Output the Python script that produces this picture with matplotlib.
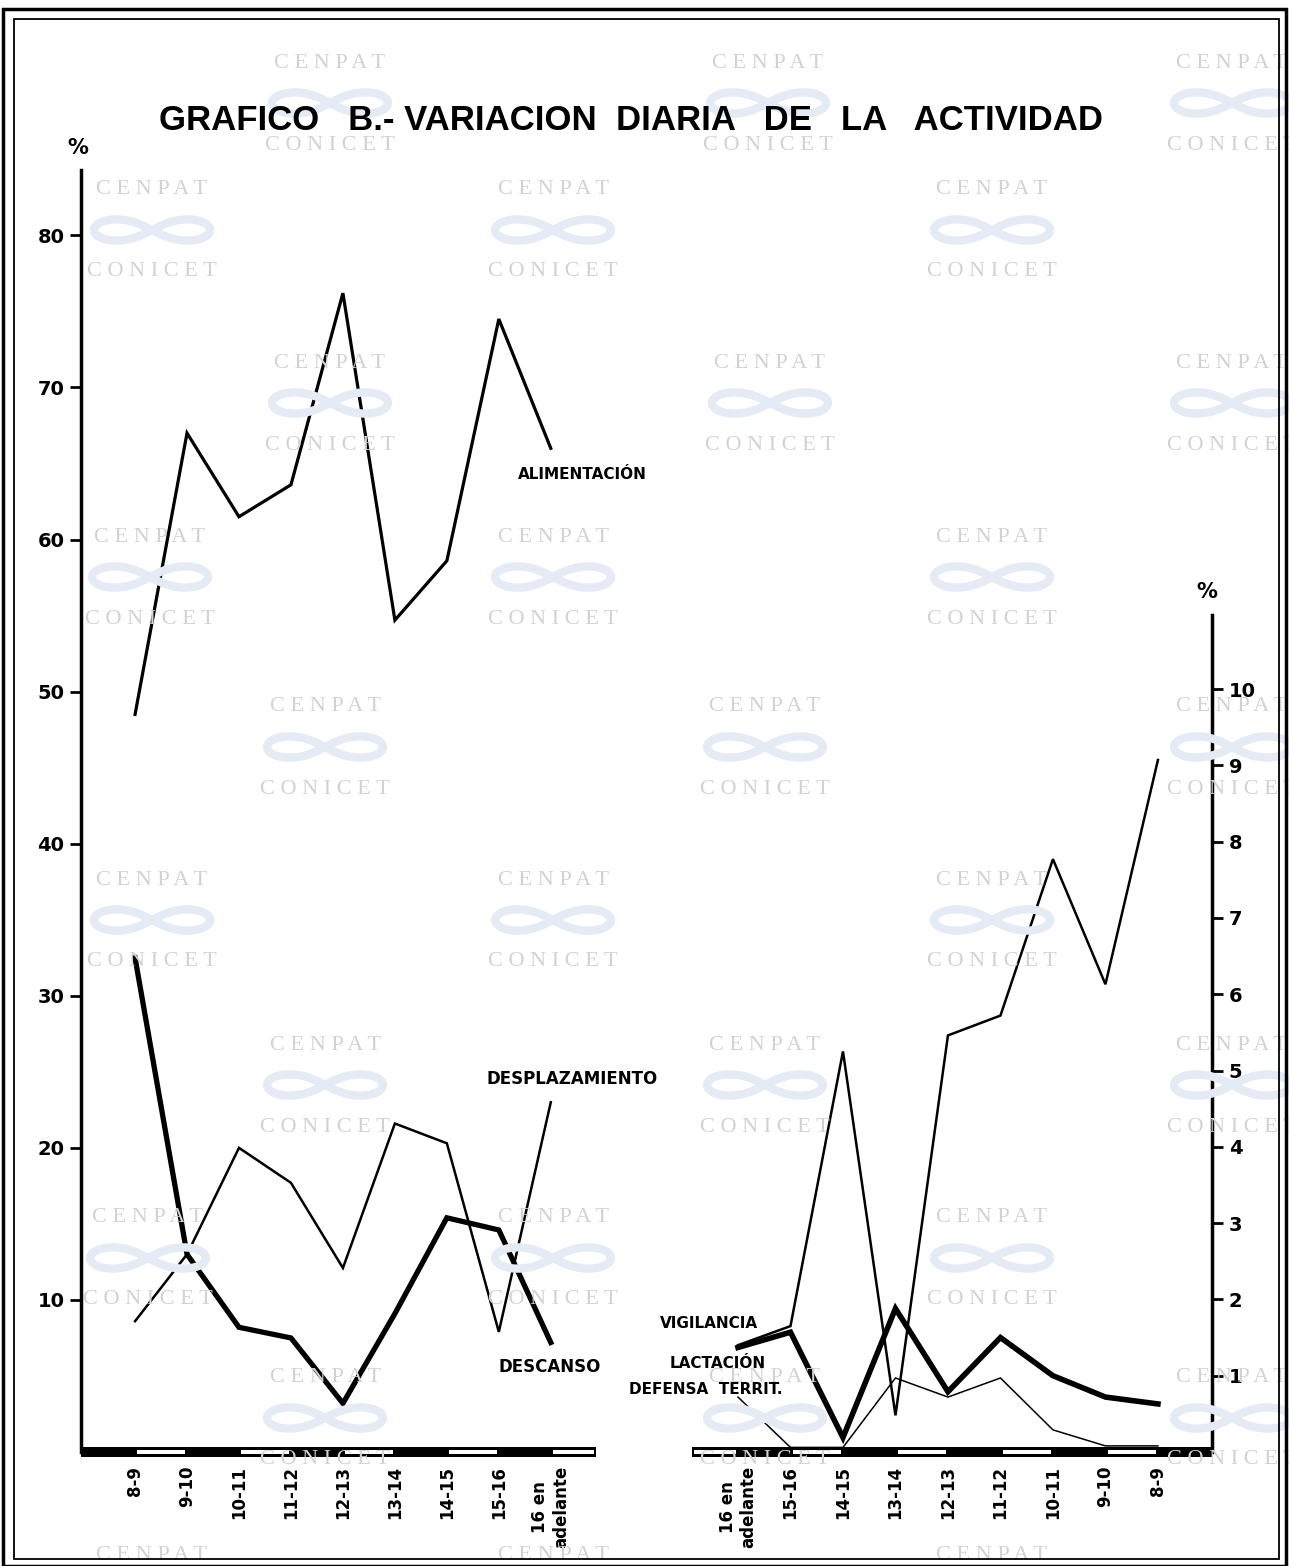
import matplotlib
matplotlib.use('Agg')
import numpy as np
import matplotlib.pyplot as plt
from matplotlib.patches import Rectangle
from matplotlib.lines import Line2D
import matplotlib.transforms as mtransforms

# --- datos ---
horas = ['8-9', '9-10', '10-11', '11-12', '12-13', '13-14', '14-15', '15-16', '16 en\nadelante']
alimentacion = [48.5, 67.0, 61.5, 63.6, 76.2, 54.7, 58.6, 74.5, 66.0]
desplazamiento = [8.6, 13.0, 20.0, 17.7, 12.1, 21.6, 20.3, 7.9, 23.0]
descanso = [32.5, 13.0, 8.2, 7.5, 3.2, 9.1, 15.4, 14.6, 7.2]

# panel derecho: orden invertido (16 en adelante ... 8-9)
horas_inv = horas[::-1]
lactacion = [1.4, 1.65, 5.25, 0.48, 5.46, 5.72, 7.77, 6.13, 9.07]
vigilancia = [1.37, 1.57, 0.19, 1.88, 0.79, 1.5, 1.0, 0.72, 0.63]
defensa = [0.72, 0.06, 0.06, 0.97, 0.72, 0.97, 0.29, 0.08, 0.08]

yticks_izq = [10, 20, 30, 40, 50, 60, 70, 80]
yticks_der = [1, 2, 3, 4, 5, 6, 7, 8, 9, 10]

W, H = 1289, 1566
fig = plt.figure(figsize=(W / 100, H / 100), dpi=100)
fig.patch.set_facecolor('white')


def fx(px):
    return px / W


def fy(py):
    return 1 - py / H


# marca de agua CENPAT / CONICET
marca_filas = [(63, [330, 768, 1232]), (190, [152, 553, 992]), (363, [330, 770, 1232]),
               (537, [150, 553, 992]), (707, [325, 765, 1232]), (880, [152, 553, 992]),
               (1045, [325, 765, 1232]), (1218, [148, 553, 992]), (1378, [325, 765, 1232]),
               (1555, [152, 553, 992])]
t = np.linspace(0, 2 * np.pi, 120)
lem_x = 58 * np.cos(t) / (1 + np.sin(t) ** 2)
lem_y = 30 * np.sin(t) * np.cos(t) / (1 + np.sin(t) ** 2)
for yy, xs in marca_filas:
    for xx in xs:
        fig.text(fx(xx), fy(yy), 'C E N P A T', family='Liberation Serif', fontsize=16,
                 color='#d2d2d2', ha='center', va='center', zorder=0)
        fig.lines.append(Line2D(fx(xx + lem_x), fy(yy + 40 + lem_y), transform=fig.transFigure,
                                color='#e4ebf5', lw=6, zorder=0, solid_capstyle='round'))
        fig.text(fx(xx), fy(yy + 82), 'C O N I C E T', family='Liberation Serif', fontsize=16,
                 color='#d2d2d2', ha='center', va='center', zorder=0)

# marco doble
fig.patches.append(Rectangle((fx(3), fy(1566)), fx(1286) - fx(3), fy(9) - fy(1566),
                             transform=fig.transFigure, fill=False, lw=2.5, ec='black'))
fig.patches.append(Rectangle((fx(14), fy(1559)), fx(1279) - fx(14), fy(19) - fy(1559),
                             transform=fig.transFigure, fill=False, lw=1.3, ec='black'))

fig.text(fx(631), fy(121), 'GRAFICO   B.- VARIACION  DIARIA   DE   LA   ACTIVIDAD',
         family='Liberation Sans', fontweight='bold', fontsize=25, ha='center', va='center')

bold = dict(fontweight='bold', family='DejaVu Sans')

# --- panel izquierdo ---
axL = fig.add_axes([fx(81), fy(1452), (596 - 81) / W, (1452 - 170) / H])
axL.patch.set_alpha(0)
xl = list(range(len(horas)))
axL.plot(xl, alimentacion, color='black', lw=2.3, solid_joinstyle='miter')
axL.plot(xl, desplazamiento, color='black', lw=1.8, solid_joinstyle='miter')
axL.plot(xl, descanso, color='black', lw=3.8, solid_joinstyle='miter')
axL.set_xlim(-1.04, 8.87)
axL.set_ylim(0, 84.3)
for s in ['top', 'right', 'bottom']:
    axL.spines[s].set_visible(False)
axL.spines['left'].set_linewidth(2.5)
axL.set_yticks(yticks_izq)
axL.set_yticklabels([str(v) for v in yticks_izq], fontsize=14, **bold)
axL.tick_params(axis='y', length=8, width=2, pad=4)
axL.set_xticks(xl)
axL.set_xticklabels(horas, rotation=90, fontsize=12, multialignment='center', **bold)
axL.tick_params(axis='x', length=0, pad=10)
fig.text(fx(78), fy(148), '%', fontsize=15, ha='center', va='center', **bold)

axL.text(8.6, 64.3, 'ALIMENTACIÓN', fontsize=11, ha='center', va='center', **bold)
axL.text(8.42, 24.5, 'DESPLAZAMIENTO', fontsize=12, ha='center', va='center', **bold)
axL.text(7.98, 5.6, 'DESCANSO', fontsize=12, ha='center', va='center', **bold)

# --- panel derecho ---
axR = fig.add_axes([fx(692), fy(1452), (1212 - 692) / W, (1452 - 615) / H])
axR.patch.set_alpha(0)
xr = list(range(len(horas_inv)))
axR.plot(xr, lactacion, color='black', lw=1.8, solid_joinstyle='miter')
axR.plot(xr, vigilancia, color='black', lw=4.0, solid_joinstyle='miter')
axR.plot(xr, defensa, color='black', lw=1.1, solid_joinstyle='miter')
axR.set_xlim(-0.876, 9.03)
axR.set_ylim(0, 10.97)
for s in ['top', 'left', 'bottom']:
    axR.spines[s].set_visible(False)
axR.spines['right'].set_linewidth(2.5)
axR.yaxis.tick_right()
axR.set_yticks(yticks_der)
axR.set_yticklabels([str(v) for v in yticks_der], fontsize=14, **bold)
axR.tick_params(axis='y', length=8, width=2, pad=4)
axR.set_xticks(xr)
axR.set_xticklabels(horas_inv, rotation=90, fontsize=12, multialignment='center', **bold)
axR.tick_params(axis='x', length=0, pad=10)
fig.text(fx(1207), fy(592), '%', fontsize=15, ha='center', va='center', **bold)

axR.text(-0.55, 1.69, 'VIGILANCIA', fontsize=11, ha='center', va='center', **bold)
axR.text(-0.38, 1.16, 'LACTACIÓN', fontsize=11, ha='center', va='center', **bold)
axR.text(-0.62, 0.82, 'DEFENSA  TERRIT.', fontsize=11, ha='center', va='center', **bold)

# barra de base en bloques blancos y negros
y0, y1 = fy(1457), fy(1447)
yw0, yw1 = fy(1454), fy(1450)
for ax, lo, hi, blancos in [(axL, -1.04, 8.87, [(0, 1), (2, 3), (4, 5), (6, 7), (8, 8.87)]),
                            (axR, -0.876, 9.03, [(-0.876, 0), (1, 2), (3, 4), (5, 6), (7, 8)])]:
    tr = mtransforms.blended_transform_factory(ax.transData, fig.transFigure)
    ax.add_patch(Rectangle((lo, y0), hi - lo, y1 - y0, transform=tr, fc='black', ec='none',
                           clip_on=False, zorder=5))
    for a, b in blancos:
        ax.add_patch(Rectangle((a + 0.04, yw0), b - a - 0.08, yw1 - yw0, transform=tr,
                               fc='white', ec='none', clip_on=False, zorder=6))

fig.savefig('out.png', dpi=100)
